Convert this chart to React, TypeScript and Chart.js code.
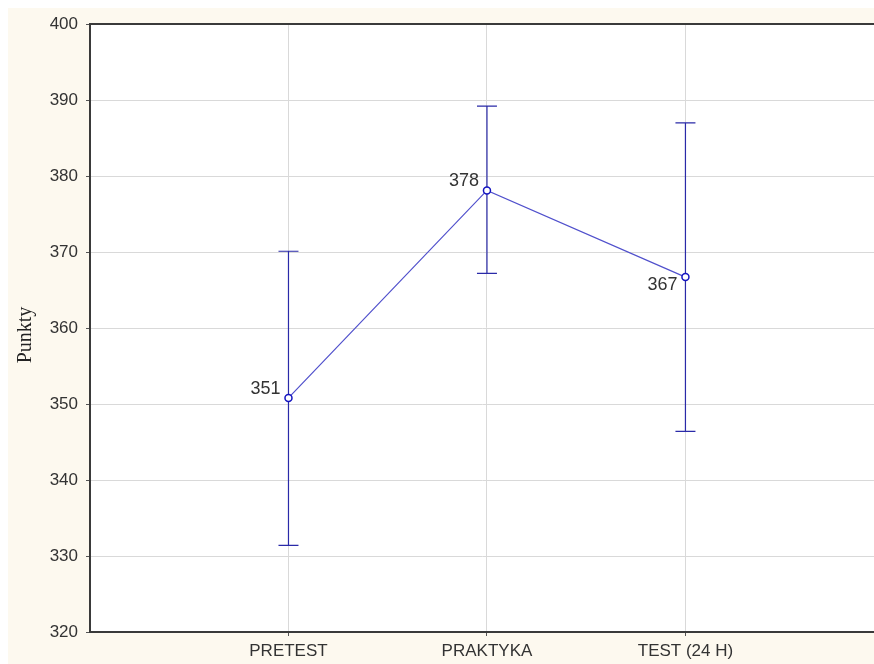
import React, { useEffect, useRef } from "react";
import { Chart, registerables } from "chart.js";

Chart.register(...registerables);

const categories = ["PRETEST", "PRAKTYKA", "TEST (24 H)"];
const means = [350.8, 378.1, 366.7];
const lower = [331.4, 367.2, 346.4];
const upper = [370.1, 389.2, 387.0];
const yTicks = [320, 330, 340, 350, 360, 370, 380, 390, 400];
const yTitle = "Punkty";
const labelSide = ["above", "above", "below"];

const SANS = "'Liberation Sans', Arial, sans-serif";
const SERIF = "'Liberation Serif', 'Times New Roman', serif";

const errorBarPlugin = {
  id: "errorBars",
  beforeDraw(chart: any) {
    const { ctx, chartArea } = chart;
    ctx.save();
    ctx.fillStyle = "#ffffff";
    ctx.fillRect(chartArea.left, chartArea.top, chartArea.right - chartArea.left, chartArea.bottom - chartArea.top);
    ctx.restore();
  },
  afterDatasetsDraw(chart: any) {
    const { ctx, scales, chartArea } = chart;
    const xs = scales.x;
    const ys = scales.y;
    ctx.save();
    // top frame line
    ctx.strokeStyle = "#3a3a3a";
    ctx.lineWidth = 2;
    ctx.beginPath();
    ctx.moveTo(chartArea.left, chartArea.top);
    ctx.lineTo(chartArea.right, chartArea.top);
    ctx.stroke();
    // error bars
    ctx.strokeStyle = "#2a2aa8";
    ctx.lineWidth = 1.2;
    means.forEach((m, i) => {
      const x = xs.getPixelForValue(i + 1);
      const yl = ys.getPixelForValue(lower[i]);
      const yu = ys.getPixelForValue(upper[i]);
      ctx.beginPath();
      ctx.moveTo(x, yl);
      ctx.lineTo(x, yu);
      ctx.moveTo(x - 10, yl);
      ctx.lineTo(x + 10, yl);
      ctx.moveTo(x - 10, yu);
      ctx.lineTo(x + 10, yu);
      ctx.stroke();
    });
    // points on top
    means.forEach((m, i) => {
      const x = xs.getPixelForValue(i + 1);
      const y = ys.getPixelForValue(m);
      ctx.beginPath();
      ctx.arc(x, y, 3.5, 0, Math.PI * 2);
      ctx.fillStyle = "#ffffff";
      ctx.fill();
      ctx.strokeStyle = "#1414c0";
      ctx.lineWidth = 1.5;
      ctx.stroke();
    });
    // value labels
    ctx.font = `18px ${SANS}`;
    ctx.fillStyle = "#333333";
    ctx.textAlign = "right";
    ctx.textBaseline = "middle";
    means.forEach((m, i) => {
      const x = xs.getPixelForValue(i + 1);
      const y = ys.getPixelForValue(m);
      const dy = labelSide[i] === "above" ? -9 : 8;
      ctx.fillText(String(Math.round(m)), x - 8, y + dy);
    });
    ctx.restore();
  },
  afterDraw(chart: any) {
    const { ctx, chartArea } = chart;
    ctx.save();
    ctx.font = `20px ${SERIF}`;
    ctx.fillStyle = "#222222";
    ctx.textAlign = "center";
    ctx.textBaseline = "alphabetic";
    ctx.translate(chartArea.left - 59, (chartArea.top + chartArea.bottom) / 2 + 7);
    ctx.rotate(-Math.PI / 2);
    ctx.fillText(yTitle, 0, 0);
    ctx.restore();
  },
};

export default function App() {
  const ref = useRef<HTMLCanvasElement | null>(null);
  useEffect(() => {
    if (!ref.current) return;
    const chart = new Chart(ref.current, {
      type: "scatter",
      data: {
        datasets: [
          {
            data: means.map((m, i) => ({ x: i + 1, y: m })),
            showLine: true,
            borderColor: "#5050cc",
            borderWidth: 1.2,
            pointRadius: 0,
            pointHoverRadius: 0,
          },
        ],
      },
      plugins: [errorBarPlugin],
      options: {
        animation: false,
        responsive: false,
        maintainAspectRatio: false,
        layout: { padding: { top: 16, right: 0, left: 0, bottom: 0 } },
        plugins: { legend: { display: false }, tooltip: { enabled: false } },
        scales: {
          x: {
            type: "linear",
            min: 0,
            max: 3.95,
            afterBuildTicks: (scale: any) => {
              scale.ticks = categories.map((_, i) => ({ value: i + 1 }));
            },
            afterFit: (scale: any) => {
              scale.height = 32;
              scale.paddingLeft = 0;
              scale.paddingRight = 0;
            },
            ticks: {
              callback: (v: any) => categories[Number(v) - 1] ?? "",
              font: { family: SANS, size: 17 },
              color: "#333333",
              padding: 5,
              maxRotation: 0,
              autoSkip: false,
            },
            grid: {
              color: "#d9d9d9",
              lineWidth: 1,
              tickLength: 4,
              tickColor: "#555555",
              drawTicks: true,
            },
            border: { display: true, color: "#3a3a3a", width: 2 },
          },
          y: {
            type: "linear",
            min: 320,
            max: 400,
            afterBuildTicks: (scale: any) => {
              scale.ticks = yTicks.map((v) => ({ value: v }));
            },
            afterFit: (scale: any) => {
              scale.width = 82;
              scale.paddingTop = 0;
              scale.paddingBottom = 0;
            },
            ticks: {
              font: { family: SANS, size: 17 },
              color: "#333333",
              padding: 8,
            },
            grid: {
              color: "#d9d9d9",
              lineWidth: 1,
              tickLength: 4,
              tickColor: "#555555",
            },
            border: { display: true, color: "#3a3a3a", width: 2 },
          },
        },
      },
    });
    return () => chart.destroy();
  }, []);
  return (
    <div
      style={{
        position: "fixed",
        left: 8,
        top: 8,
        width: 866,
        height: 656,
        background: "#fdf9ef",
        overflow: "hidden",
      }}
    >
      <canvas ref={ref} width={866} height={656} style={{ display: "block" }} />
    </div>
  );
}
